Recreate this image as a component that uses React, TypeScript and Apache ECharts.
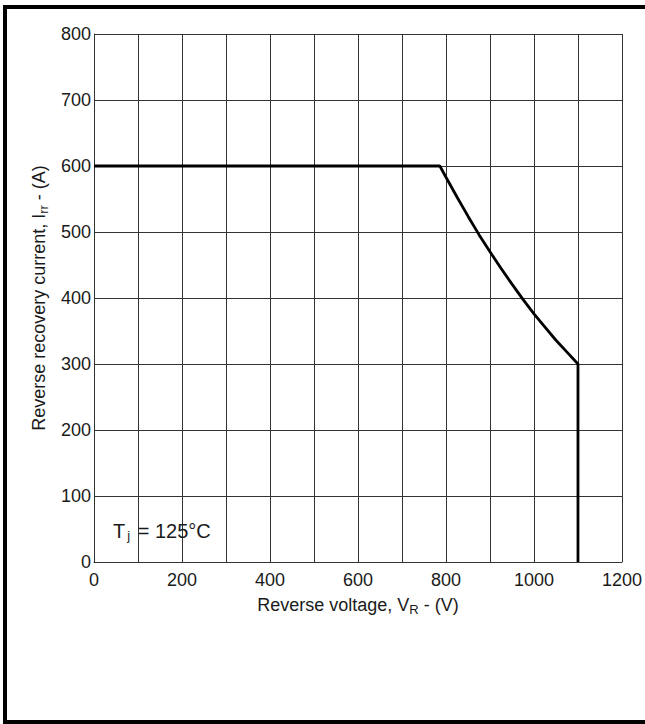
import React, { useEffect, useRef } from "react";
import * as echarts from "echarts";

const voltage = [0, 786, 800, 825, 850, 875, 900, 925, 950, 975, 1000, 1025, 1050, 1075, 1100, 1100];
const current = [600, 600, 583, 553, 524, 496, 470, 445, 421, 398, 376, 356, 336, 318, 300, 0];
const xTicks = [0, 200, 400, 600, 800, 1000, 1200];

const FONT = "'Liberation Sans', Arial, Helvetica, sans-serif";
const TXT = "#1a1a1a";

export default function App() {
  const ref = useRef<HTMLDivElement>(null);
  useEffect(() => {
    if (!ref.current) return;
    const chart = echarts.init(ref.current, undefined, { renderer: "svg" });
    const data = voltage.map((v, i) => [v, current[i]]);
    chart.setOption({
      animation: false,
      backgroundColor: "#fff",
      grid: { left: 94, top: 34, width: 528, height: 528, containLabel: false },
      xAxis: {
        type: "value",
        min: 0,
        max: 1200,
        interval: 100,
        name: "{n|Reverse voltage, V}{s|R}{n| - (V)}",
        nameLocation: "middle",
        nameGap: 33,
        nameTextStyle: {
          rich: {
            n: { fontSize: 18, fontFamily: FONT, color: TXT, lineHeight: 20 },
            s: { fontSize: 13, fontFamily: FONT, color: TXT, padding: [8, 0, 0, 0], lineHeight: 20 },
          },
        },
        axisLine: { show: true, lineStyle: { color: "#333", width: 1 } },
        axisTick: { show: false },
        axisLabel: {
          margin: 9,
          fontSize: 18,
          fontFamily: FONT,
          color: TXT,
          formatter: (v: number) => (xTicks.includes(v) ? String(v) : ""),
        },
        splitLine: { show: true, lineStyle: { color: "#333", width: 1 } },
      },
      yAxis: {
        type: "value",
        min: 0,
        max: 800,
        interval: 100,
        name: "{n|Reverse recovery current, I}{s|rr}{n| - (A)}",
        nameLocation: "middle",
        nameGap: 45,
        nameRotate: 90,
        nameTextStyle: {
          rich: {
            n: { fontSize: 18, fontFamily: FONT, color: TXT, lineHeight: 20 },
            s: { fontSize: 13, fontFamily: FONT, color: TXT, padding: [8, 0, 0, 0], lineHeight: 20 },
          },
        },
        axisLine: { show: true, lineStyle: { color: "#333", width: 1 } },
        axisTick: { show: false },
        axisLabel: { margin: 3, fontSize: 18, fontFamily: FONT, color: TXT },
        splitLine: { show: true, lineStyle: { color: "#333", width: 1 } },
      },
      series: [
        {
          type: "line",
          data,
          showSymbol: false,
          symbol: "none",
          lineStyle: { color: "#000", width: 2.8 },
          z: 5,
        },
      ],
      graphic: [
        { type: "rect", shape: { x: 3, y: 5, width: 642, height: 4 }, style: { fill: "#000" } },
        { type: "rect", shape: { x: 3, y: 5, width: 4, height: 719 }, style: { fill: "#000" } },
        { type: "rect", shape: { x: 3, y: 720, width: 642, height: 4 }, style: { fill: "#000" } },
        {
          type: "text",
          left: 113,
          top: 519,
          z: 10,
          style: {
            text: "{n|T}{s|j}{n| = 125°C}",
            rich: {
              n: { fontSize: 20, fontFamily: FONT, fill: TXT, lineHeight: 24 },
              s: { fontSize: 13, fontFamily: FONT, fill: TXT, padding: [10, 2, 0, 2], lineHeight: 24 },
            },
          },
        },
      ],
    });
    return () => chart.dispose();
  }, []);
  return (
    <div
      ref={ref}
      style={{ position: "fixed", left: 0, top: 0, width: 645, height: 724, background: "#fff" }}
    />
  );
}
